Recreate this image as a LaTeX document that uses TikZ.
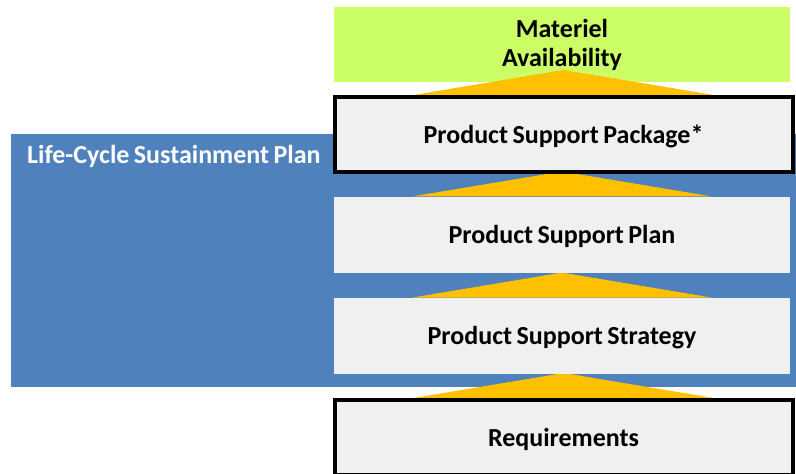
\documentclass[tikz,border=0pt]{standalone}
\usepackage{fontspec}
\setmainfont{Carlito}[WordSpace=0.75]
\usetikzlibrary{backgrounds}
\definecolor{lcspblue}{HTML}{4F81BD}
\definecolor{matgreen}{HTML}{CCFF66}
\definecolor{boxgray}{HTML}{F0F0F0}
\definecolor{arrowyellow}{HTML}{FFC000}
\begin{document}
\begin{tikzpicture}[x=1bp, y=-1bp, font=\fontsize{26bp}{29bp}\selectfont\bfseries,
	level/.style={fill=boxgray, minimum width=456bp, minimum height=76bp, inner sep=0pt},
	onelevel/.style={level, text height=21bp, text depth=3bp},
	keylevel/.style={onelevel, draw=black, line width=4bp, minimum width=458bp, minimum height=75bp}]
	\useasboundingbox (0,0) rectangle (796,474);
	
	%levels
	\node[keylevel] (pkg) at (563.5,134.5) {Product Support Package*};
	\node[onelevel] (plan) at (562,234.7) {Product Support Plan};
	\node[onelevel] (strat) at (562,335.8) {Product Support Strategy};
	\node[keylevel] (req) at (563.5,437.5) {Requirements};
	
	\begin{scope}[on background layer]
		%sustainment plan
		\fill[lcspblue] (11,134) rectangle (796,387);
		\node[level, fill=matgreen, align=center, minimum height=75bp] (mat) at (562,45) {Materiel\\Availability};
		
		%arrows
		\foreach \lvl in {pkg, plan, strat, req}{
			\fill[arrowyellow] ([xshift=-150bp]\lvl.north) -- ([yshift=25bp]\lvl.north) -- ([xshift=150bp]\lvl.north) -- cycle;
		}
	\end{scope}
	\node[anchor=base west, inner sep=0pt, white] (lcsp) at (27,164) {Life-Cycle Sustainment Plan};
\end{tikzpicture}
\end{document}
